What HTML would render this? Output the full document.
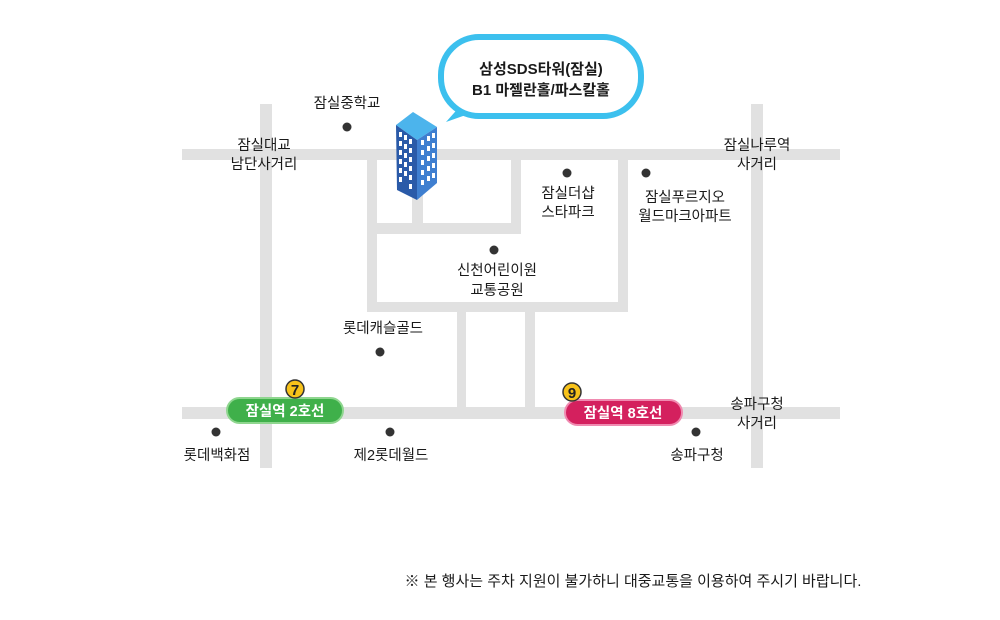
<!DOCTYPE html>
<html><head><meta charset="utf-8"><style>
html,body{margin:0;padding:0;background:#fff;}
svg{display:block;}
text{font-family:"Liberation Sans","Noto Sans CJK KR",sans-serif;font-size:14.5px;fill:#1a1a1a;text-anchor:middle;}
</style></head><body>
<svg width="1000" height="620" viewBox="0 0 1000 620" xmlns="http://www.w3.org/2000/svg">
<g fill="#e1e1e1">
<rect x="182" y="149" width="658" height="11"/>
<rect x="182" y="407" width="658" height="12"/>
<rect x="260" y="104" width="12" height="364"/>
<rect x="751" y="104" width="12" height="364"/>
<rect x="367" y="149" width="10" height="163"/>
<rect x="412" y="149" width="11" height="85"/>
<rect x="367" y="223" width="154" height="11"/>
<rect x="511" y="149" width="10" height="85"/>
<rect x="618" y="149" width="10" height="163"/>
<rect x="367" y="302" width="261" height="10"/>
<rect x="457" y="312" width="9" height="100"/>
<rect x="525" y="312" width="10" height="100"/>
</g>
<path d="M446 122 L462 104 L480 110 Z" fill="#3cc0ee"/>
<rect x="441" y="37" width="200" height="79" rx="38" fill="#fff" stroke="#3cc0ee" stroke-width="6"/>
<text x="541" y="74" style="font-weight:bold;font-size:15px">삼성SDS타워(잠실)</text>
<text x="541" y="95" style="font-weight:bold;font-size:15px">B1 마젤란홀/파스칼홀</text>
<polygon points="396,125 413,112 437,127 417,140" fill="#4cb4ec"/>
<polygon points="396,125 417,140 417,200 397,190" fill="#2a5aa8"/>
<polygon points="417,140 437,127 437,183 417,200" fill="#3f7fd0"/>
<g fill="#fff">
<rect x="399" y="132" width="3" height="5"/><rect x="404" y="135" width="3" height="5"/><rect x="409" y="139" width="3" height="5"/>
<rect x="399" y="141" width="3" height="5"/><rect x="404" y="144" width="3" height="5"/><rect x="409" y="148" width="3" height="5"/>
<rect x="399" y="150" width="3" height="5"/><rect x="404" y="153" width="3" height="5"/><rect x="409" y="157" width="3" height="5"/>
<rect x="399" y="159" width="3" height="5"/><rect x="404" y="162" width="3" height="5"/><rect x="409" y="166" width="3" height="5"/>
<rect x="399" y="168" width="3" height="5"/><rect x="404" y="171" width="3" height="5"/><rect x="409" y="175" width="3" height="5"/>
<rect x="399" y="177" width="3" height="5"/><rect x="409" y="184" width="3" height="5"/>
<rect x="421" y="140" width="3" height="5"/><rect x="427" y="136" width="3" height="5"/><rect x="432" y="133" width="3" height="5"/>
<rect x="421" y="150" width="3" height="5"/><rect x="427" y="146" width="3" height="5"/><rect x="432" y="143" width="3" height="5"/>
<rect x="421" y="160" width="3" height="5"/><rect x="427" y="156" width="3" height="5"/><rect x="432" y="153" width="3" height="5"/>
<rect x="421" y="170" width="3" height="5"/><rect x="427" y="166" width="3" height="5"/><rect x="432" y="163" width="3" height="5"/>
<rect x="421" y="180" width="3" height="5"/><rect x="427" y="176" width="3" height="5"/><rect x="432" y="173" width="3" height="5"/>
</g>
<g fill="#333">
<circle cx="347" cy="127" r="4.5"/><circle cx="567" cy="173" r="4.5"/><circle cx="646" cy="173" r="4.5"/>
<circle cx="494" cy="250" r="4.5"/><circle cx="380" cy="352" r="4.5"/><circle cx="216" cy="432" r="4.5"/>
<circle cx="390" cy="432" r="4.5"/><circle cx="696" cy="432" r="4.5"/>
</g>
<text x="347" y="108">잠실중학교</text>
<text x="264" y="150">잠실대교</text><text x="264" y="169">남단사거리</text>
<text x="757" y="150">잠실나루역</text><text x="757" y="169">사거리</text>
<text x="568" y="198">잠실더샵</text><text x="568" y="217">스타파크</text>
<text x="685" y="202">잠실푸르지오</text><text x="685" y="221">월드마크아파트</text>
<text x="497" y="275">신천어린이원</text><text x="497" y="295">교통공원</text>
<text x="383" y="333">롯데캐슬골드</text>
<text x="217" y="460">롯데백화점</text>
<text x="391" y="460">제2롯데월드</text>
<text x="697" y="460">송파구청</text>
<text x="757" y="409">송파구청</text><text x="757" y="428">사거리</text>
<rect x="227" y="398" width="116" height="25" rx="12.5" fill="#3fb04a" stroke="#8fd68f" stroke-width="2"/>
<text x="285" y="416" style="fill:#fff;font-weight:bold">잠실역 2호선</text>
<circle cx="295" cy="389" r="9" fill="#f7c21a" stroke="#333" stroke-width="1.5"/>
<text x="295" y="395" style="font-weight:bold;font-size:15px;fill:#222">7</text>
<rect x="565" y="400" width="117" height="25" rx="12.5" fill="#d4205e" stroke="#f08ab0" stroke-width="2"/>
<text x="623" y="418" style="fill:#fff;font-weight:bold">잠실역 8호선</text>
<circle cx="572" cy="392" r="9" fill="#f7c21a" stroke="#333" stroke-width="1.5"/>
<text x="572" y="398" style="font-weight:bold;font-size:15px;fill:#222">9</text>
<text x="633" y="586" style="font-size:15px">※ 본 행사는 주차 지원이 불가하니 대중교통을 이용하여 주시기 바랍니다.</text>
</svg>
</body></html>
